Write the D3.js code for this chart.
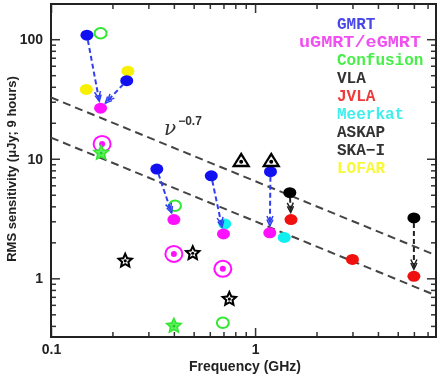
<!DOCTYPE html>
<html><head><meta charset="utf-8">
<script src="https://cdn.jsdelivr.net/npm/d3@7"></script>
<style>body{margin:0;background:#fff} svg{filter:blur(0.35px)}</style>
</head><body><svg id="c" width="444" height="378"></svg>
<script>
// ---------- data ----------
const xMajorTicks = [0.1, 1];
const xTickLabels = ["0.1", "1"];
const yMajorTicks = [1, 10, 100];
const yTickLabels = ["1", "10", "100"];

const gmrtFreq = [0.15, 0.235, 0.33, 0.61, 1.19];
const gmrtRms  = [108, 45, 8.2, 7.2, 7.8];
const ugmrtFreq = [0.175, 0.40, 0.70, 1.18];
const ugmrtRms  = [26.5, 3.1, 2.35, 2.4];
const gmrtToUgmrt = [[0,0],[1,0],[2,1],[3,2],[4,3]];
const ugmrtDeepFreq = [0.178, 0.40, 0.695];
const ugmrtDeepRms  = [13.3, 1.6, 1.2];
const confusionCircleFreq = [0.175, 0.405, 0.695];
const confusionCircleRms  = [112, 4.05, 0.425];
const confusionStarFreq = [0.176, 0.40];
const confusionStarRms  = [11.2, 0.40];
const vlaFreq = [1.48, 6.0];
const vlaRms  = [5.2, 3.2];
const jvlaFreq = [1.5, 3.0, 6.0];
const jvlaRms  = [3.1, 1.44, 1.04];
const vlaToJvla = [[0,0],[1,2]];
const meerkatFreq = [0.71, 1.39];
const meerkatRms  = [2.85, 2.2];
const askapFreq = [0.855, 1.2];
const askapRms  = [9.7, 9.7];
const skaFreq = [0.231, 0.495, 0.748];
const skaRms  = [1.40, 1.62, 0.67];
const lofarFreq = [0.149, 0.238];
const lofarRms  = [38, 54];
const slopeLinesAt1GHz = [6.5, 3.0];
const slopeIndex = -0.7;
const legendLabels = ["GMRT","uGMRT/eGMRT","Confusion","VLA","JVLA","Meerkat","ASKAP","SKA\u2212I","LOFAR"];
const legendColors = ["#4848e8","#f050f0","#48ee48","#333333","#ee3a3a","#40eeee","#333333","#333333","#f8f838"];

// ---------- layout ----------
const L=51, R=436, T=4, B=337;
const svg = d3.select("#c");
const x = d3.scaleLog().domain([0.1, 7.7]).range([L, R]);
const y = d3.scaleLog().domain([0.323, 197]).range([B, T]);
const isMajor = v => Math.abs(Math.log10(v) - Math.round(Math.log10(v))) < 1e-6;
const xMinor = x.ticks().filter(v => !isMajor(v));
const yMinor = y.ticks().filter(v => !isMajor(v));

const C = {blue:"#1010f0", mag:"#ff10ff", green:"#30e830", red:"#f01010", cyan:"#10f0f0", yellow:"#f8f000", black:"#000"};

// axes
function styleAxis(g){ g.select(".domain").remove(); g.selectAll(".tick line").attr("stroke","#333").attr("stroke-width",1.5);
  g.selectAll("text").attr("font-family","Liberation Sans, Arial, sans-serif").attr("font-weight","bold").attr("font-size",14).attr("fill","#222"); }
svg.append("g").attr("transform",`translate(0,${B})`).call(d3.axisBottom(x).tickValues(xMinor).tickSize(-5).tickFormat("")).call(styleAxis);
svg.append("g").attr("transform",`translate(0,${B})`).call(d3.axisBottom(x).tickValues(xMajorTicks).tickSize(-9).tickPadding(7).tickFormat((d,i)=>xTickLabels[i])).call(styleAxis);
svg.append("g").attr("transform",`translate(0,${T})`).call(d3.axisTop(x).tickValues(xMinor).tickSize(-5).tickFormat("")).call(styleAxis);
svg.append("g").attr("transform",`translate(0,${T})`).call(d3.axisTop(x).tickValues(xMajorTicks).tickSize(-9).tickFormat("")).call(styleAxis);
svg.append("g").attr("transform",`translate(${L},0)`).call(d3.axisLeft(y).tickValues(yMinor).tickSize(-5).tickFormat("")).call(styleAxis);
svg.append("g").attr("transform",`translate(${L},0)`).call(d3.axisLeft(y).tickValues(yMajorTicks).tickSize(-9).tickPadding(8).tickFormat((d,i)=>yTickLabels[i])).call(styleAxis);
svg.append("g").attr("transform",`translate(${R},0)`).call(d3.axisRight(y).tickValues(yMinor).tickSize(-5).tickFormat("")).call(styleAxis);
svg.append("g").attr("transform",`translate(${R},0)`).call(d3.axisRight(y).tickValues(yMajorTicks).tickSize(-9).tickFormat("")).call(styleAxis);
svg.append("rect").attr("x",L).attr("y",T).attr("width",R-L).attr("height",B-T).attr("fill","none").attr("stroke","#222").attr("stroke-width",2);

// axis titles
svg.append("text").attr("x",245).attr("y",371).attr("text-anchor","middle")
  .attr("font-family","Liberation Sans, Arial, sans-serif").attr("font-weight","bold").attr("font-size",14).attr("fill","#222")
  .text("Frequency (GHz)");
svg.append("text").attr("transform","translate(16,169) rotate(-90)").attr("text-anchor","middle")
  .attr("font-family","Liberation Sans, Arial, sans-serif").attr("font-weight","bold").attr("font-size",13).attr("fill","#222")
  .text("RMS sensitivity (\u03bcJy; 9 hours)");

// clip
svg.append("clipPath").attr("id","clip").append("rect").attr("x",L).attr("y",T).attr("width",R-L).attr("height",B-T);
const plot = svg.append("g").attr("clip-path","url(#clip)");

// slope lines
const line = d3.line().x(d=>x(d[0])).y(d=>y(d[1]));
slopeLinesAt1GHz.forEach(a=>{
  const pts = [0.1, 7.7].map(f=>[f, a*Math.pow(f, slopeIndex)]);
  plot.append("path").attr("d",line(pts)).attr("fill","none").attr("stroke","#444").attr("stroke-width",2).attr("stroke-dasharray","8,5");
});
// nu label
const lab = svg.append("text").attr("x",164).attr("y",135).attr("fill","#333");
lab.append("tspan").attr("font-family","DejaVu Serif, serif").attr("font-style","italic").attr("font-size",20).text("\u03bd");
lab.append("tspan").attr("font-family","Liberation Sans, Arial, sans-serif").attr("font-weight","bold").attr("font-size",12).attr("dy",-10).attr("dx",2).text("\u22120.7");

// marker helpers
function ellipses(fx, fy, color){
  plot.selectAll(null).data(fx.map((f,i)=>[f,fy[i]])).enter().append("ellipse")
    .attr("cx",d=>x(d[0])).attr("cy",d=>y(d[1])).attr("rx",6.5).attr("ry",5.5).attr("fill",color);
}
function openCircles(fx, fy, color){
  plot.selectAll(null).data(fx.map((f,i)=>[f,fy[i]])).enter().append("ellipse")
    .attr("cx",d=>x(d[0])).attr("cy",d=>y(d[1])).attr("rx",6).attr("ry",5.3).attr("fill","none").attr("stroke",color).attr("stroke-width",2);
}
function rings(fx, fy, color){
  const g = plot.selectAll(null).data(fx.map((f,i)=>[f,fy[i]])).enter().append("g")
    .attr("transform",d=>`translate(${x(d[0])},${y(d[1])})`);
  g.append("ellipse").attr("rx",8.5).attr("ry",8).attr("fill","#fff").attr("stroke",color).attr("stroke-width",2);
  g.append("circle").attr("r",3).attr("fill",color);
}
function starPath(Ro, Ri){
  let p=[]; for(let k=0;k<10;k++){ const r = k%2?Ri:Ro; const a = -Math.PI/2 + k*Math.PI/5; p.push([r*Math.cos(a), r*Math.sin(a)]); }
  return "M"+p.map(q=>q.join(",")).join("L")+"Z";
}
function stars(fx, fy, color, hollow){
  const g = plot.selectAll(null).data(fx.map((f,i)=>[f,fy[i]])).enter().append("g")
    .attr("transform",d=>`translate(${x(d[0])},${y(d[1])})`);
  g.append("path").attr("d",starPath(9.5,4.5)).attr("fill",color);
  if(hollow){ g.append("path").attr("d",starPath(4.6,2.1)).attr("fill","#fff"); g.append("circle").attr("r",1.6).attr("fill",color); }
  else { g.append("path").attr("d",starPath(6,2.5)).attr("fill","#60f060"); g.append("circle").attr("r",1.5).attr("fill","#20d020"); }
}
function triangles(fx, fy){
  const g = plot.selectAll(null).data(fx.map((f,i)=>[f,fy[i]])).enter().append("g")
    .attr("transform",d=>`translate(${x(d[0])},${y(d[1])})`);
  g.append("path").attr("d","M0,-8.5L9.5,7L-9.5,7Z").attr("fill","#000");
  g.append("path").attr("d","M0,-4L5.5,4.5L-5.5,4.5Z").attr("fill","#fff");
  g.append("circle").attr("cy",1.5).attr("r",2).attr("fill","#000");
}
function arrows(pairs, fx1, fy1, fx2, fy2, color){
  pairs.forEach(([i,j])=>{
    const x1=x(fx1[i]), y1=y(fy1[i]), x2=x(fx2[j]), y2=y(fy2[j]);
    const dx=x2-x1, dy=y2-y1, len=Math.hypot(dx,dy), ux=dx/len, uy=dy/len;
    const sx=x1+ux*5, sy=y1+uy*5, ex=x2-ux*7, ey=y2-uy*7;
    plot.append("line").attr("x1",sx).attr("y1",sy).attr("x2",ex).attr("y2",ey)
      .attr("stroke",color).attr("stroke-width",2).attr("stroke-dasharray","5,3");
    const ang=Math.atan2(uy,ux);
    [0,3.5].forEach(off=>{
      const tx=ex-ux*off, ty=ey-uy*off;
      const a1=ang+Math.PI-0.45, a2=ang+Math.PI+0.45, h=7;
      plot.append("path").attr("d",`M${tx+h*Math.cos(a1)},${ty+h*Math.sin(a1)}L${tx},${ty}L${tx+h*Math.cos(a2)},${ty+h*Math.sin(a2)}`)
        .attr("fill","none").attr("stroke",color).attr("stroke-width",1.5);
    });
  });
}

// draw markers
ellipses(lofarFreq, lofarRms, C.yellow);
openCircles(confusionCircleFreq, confusionCircleRms, C.green);
ellipses(meerkatFreq, meerkatRms, C.cyan);
ellipses(gmrtFreq, gmrtRms, C.blue);
arrows(gmrtToUgmrt, gmrtFreq, gmrtRms, ugmrtFreq, ugmrtRms, "#3040f0");
ellipses(ugmrtFreq, ugmrtRms, C.mag);
rings(ugmrtDeepFreq, ugmrtDeepRms, C.mag);
stars(confusionStarFreq, confusionStarRms, C.green, false);
ellipses(vlaFreq, vlaRms, C.black);
arrows(vlaToJvla, vlaFreq, vlaRms, jvlaFreq, jvlaRms, "#222");
ellipses(jvlaFreq, jvlaRms, C.red);
triangles(askapFreq, askapRms);
stars(skaFreq, skaRms, C.black, true);

// legend
const legY0 = 29, legDy = 18;
legendLabels.forEach((t,i)=>{
  const wide = t.length > 9;
  const el = svg.append("text").attr("x", wide ? 421 : 337).attr("y", legY0 + i*legDy)
    .attr("text-anchor", wide ? "end" : "start")
    .attr("font-family","Liberation Mono, Courier New, monospace").attr("font-weight","bold").attr("font-size",16)
    .attr("fill",legendColors[i]).text(t);
  if (wide) el.attr("textLength",122).attr("lengthAdjust","spacingAndGlyphs");
});
</script></body></html>
